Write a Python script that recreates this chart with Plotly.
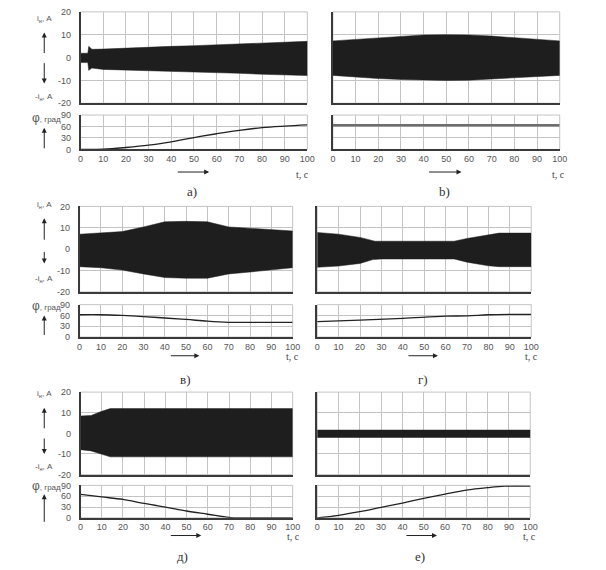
import plotly.graph_objects as go

W, H = 606, 570

# ---- data ----
# a)
t_a_env = [0, 3.2, 3.6, 4.2, 5, 10, 20, 30, 40, 50, 60, 70, 80, 90, 100]
a_up = [1.9, 1.9, 4.9, 4.5, 3.6, 3.7, 4.2, 4.6, 4.9, 5.2, 5.6, 6.0, 6.4, 6.9, 7.1]
a_lo = [-2.2, -2.2, -5.6, -5.2, -4.6, -5.2, -5.4, -5.7, -6.0, -6.3, -6.6, -6.9, -7.3, -7.7, -7.9]
t_a_phi = [0, 10, 20, 30, 40, 50, 60, 70, 80, 90, 100]
a_phi = [0, 0.5, 5, 11, 20, 31, 41, 50, 57, 61, 64]

# b)
t_b_env = [0, 10, 20, 30, 40, 50, 60, 70, 80, 90, 100]
b_up = [7.3, 8.0, 8.8, 9.4, 9.9, 10.0, 9.9, 9.4, 8.8, 8.0, 7.3]
b_lo = [-7.8, -8.6, -9.2, -9.6, -9.9, -10.0, -9.9, -9.4, -8.8, -8.3, -7.8]
t_b_phi = [0, 100]
b_phi = [63, 63]

# в)
t_v_env = [0, 10, 20, 30, 40, 50, 60, 70, 80, 90, 100]
v_up = [7.0, 7.5, 8.2, 10.4, 12.8, 13.0, 12.8, 10.4, 9.8, 9.2, 8.5]
v_lo = [-8.2, -8.7, -9.8, -11.6, -13.3, -13.6, -13.6, -11.6, -10.7, -9.8, -8.7]
t_v_phi = [0, 10, 20, 30, 40, 50, 60, 70, 80, 90, 100]
v_phi = [62, 62, 60, 57, 53, 49, 44, 41, 41, 41, 41]

# г)
t_g_env = [0, 10, 20, 26, 27, 30, 64, 70, 80, 85, 100]
g_up = [7.8, 7.0, 5.5, 4.0, 3.7, 3.7, 3.7, 5.0, 6.9, 7.5, 7.5]
g_lo = [-8.5, -7.9, -6.7, -4.9, -4.6, -4.6, -4.6, -6.1, -7.8, -8.2, -8.2]
t_g_phi = [0, 20, 40, 60, 70, 80, 90, 100]
g_phi = [43, 47, 52, 58, 59, 62, 63, 63]

# д)
t_d_env = [0, 5, 10, 14, 100]
d_up = [8.4, 8.7, 10.7, 12.0, 12.0]
d_lo = [-7.9, -8.5, -10.1, -11.4, -11.4]
t_d_phi = [0, 10, 20, 30, 40, 50, 60, 70, 73, 100]
d_phi = [65, 58, 51, 40, 30, 19, 10, 1, 0, 0]

# е)
t_e_env = [0, 100]
e_up = [1.6, 1.6]
e_lo = [-2.0, -2.0]
t_e_phi = [0, 10, 20, 30, 40, 50, 60, 70, 80, 88, 100]
e_phi = [0, 7, 17, 29, 41, 54, 66, 77, 84, 88, 88]

x_ticks = list(range(0, 101, 10))
i_ticks = [20, 10, 0, -10, -20]
i_text = ["20", "10", "0", "-10", "-20"]
phi_ticks = [0, 30, 60, 90]

FONT = "Liberation Sans"
GRID = "#c4c4c4"
AXIS = "#3a3a3a"
TXT = "#555555"

fig = go.Figure()
annotations = []
layout = {}


def py(y):
    return 1 - y / H


def add_panel(k, xs, yc, yp, t_env, up, lo, t_phi, phi, left, phi_color="#222222", phi_w=1.3):
    ci, pi = 2 * k + 1, 2 * k + 2
    xd = [xs[0] / W, xs[1] / W]
    for i, yy in ((ci, yc), (pi, yp)):
        sfx = "" if i == 1 else str(i)
        layout["xaxis" + sfx] = dict(
            domain=xd, anchor="y" + sfx, range=[0, 100], tickvals=x_ticks,
            showticklabels=(i == pi), showgrid=True, gridcolor=GRID, gridwidth=1,
            showline=True, linecolor=AXIS, linewidth=1.5, zeroline=False,
            ticks="", tickfont=dict(size=9, color=TXT, family=FONT), fixedrange=True)
        if i == ci:
            yax = dict(range=[-20, 20], tickvals=i_ticks, ticktext=i_text)
        else:
            yax = dict(range=[0, 90], tickvals=phi_ticks)
        yax.update(domain=[py(yy[1]), py(yy[0])], anchor="x" + sfx,
                   showticklabels=left, showgrid=True, gridcolor=GRID, gridwidth=1,
                   showline=True, linecolor=AXIS, linewidth=1.5, zeroline=False,
                   ticks="", ticklabelstandoff=6,
                   tickfont=dict(size=9, color=TXT, family=FONT), fixedrange=True)
        layout["yaxis" + sfx] = yax
        # light top/right border
        fig.add_shape(type="rect", xref="x%s domain" % sfx, yref="y%s domain" % sfx,
                      x0=0, x1=1, y0=0, y1=1, line=dict(color=GRID, width=1), layer="below")
    csfx = "" if ci == 1 else str(ci)
    fig.add_trace(go.Scatter(
        x=t_env + t_env[::-1], y=up + lo[::-1], fill="toself", mode="lines",
        fillcolor="#1e1e1e", line=dict(color="#1e1e1e", width=0.5),
        xaxis="x" + csfx, yaxis="y" + csfx, hoverinfo="skip", showlegend=False))
    fig.add_trace(go.Scatter(
        x=t_phi, y=phi, mode="lines", line=dict(color=phi_color, width=phi_w, shape="spline"),
        xaxis="x%d" % pi, yaxis="y%d" % pi, hoverinfo="skip", showlegend=False))


def arrow(x0, y0, x1, y1):
    annotations.append(dict(
        xref="paper", yref="paper", x=x1 / W, y=py(y1), ax=x0 - x1, ay=y0 - y1,
        axref="pixel", ayref="pixel", text="", showarrow=True, arrowhead=2,
        arrowsize=1, arrowwidth=1, arrowcolor="#222222", standoff=0, startstandoff=0))


def text(x, y, s, size=9, family=FONT, xanchor="center", color=TXT):
    annotations.append(dict(
        xref="paper", yref="paper", x=x / W, y=py(y), text=s, showarrow=False,
        xanchor=xanchor, yanchor="middle", font=dict(size=size, family=family, color=color)))


def left_labels(y_top, y_up_end, y_up_start, y_dn_start, y_dn_end, y_bot, y_phi, y_pa0, y_pa1):
    text(42, y_top, "i<sub>н</sub>, A", size=8)
    arrow(42, y_up_start, 42, y_up_end)
    arrow(42, y_dn_start, 42, y_dn_end)
    text(42, y_bot, "-i<sub>н</sub>, A", size=8)
    text(44, y_phi, "<span style='font-size:12px'>φ</span>, град", size=8)
    arrow(42, y_pa0, 42, y_pa1)


def bottom_labels(ax0, ax1, ya, tx, ty, lx, ly, lab):
    arrow(ax0, ya, ax1, ya)
    text(tx, ty, "t, c", size=10, family="Liberation Serif", color="#444444")
    text(lx, ly, lab, size=13, family="Liberation Serif", color="#333333")


add_panel(0, (79, 310), (7, 100), (112, 147), t_a_env, a_up, a_lo, t_a_phi, a_phi, True)
add_panel(1, (336, 567), (7, 100), (112, 147), t_b_env, b_up, b_lo, t_b_phi, b_phi, False,
          phi_color="#6e6e6e", phi_w=2.5)
add_panel(2, (78, 295), (205, 292), (305, 338), t_v_env, v_up, v_lo, t_v_phi, v_phi, True)
add_panel(3, (320, 538), (205, 292), (305, 338), t_g_env, g_up, g_lo, t_g_phi, g_phi, False)
add_panel(4, (79, 295), (394, 478), (489, 522), t_d_env, d_up, d_lo, t_d_phi, d_phi, True)
add_panel(5, (320, 537), (394, 478), (489, 522), t_e_env, e_up, e_lo, t_e_phi, e_phi, False)

left_labels(14, 28, 50, 58, 80, 94, 115, 147, 125)
left_labels(204, 217, 240, 250, 263, 279, 306, 337, 316)
left_labels(396, 410, 432, 440, 457, 470, 490, 527, 498)

bottom_labels(177, 210, 170, 305, 173, 193, 190, "а)")
bottom_labels(433, 467, 170, 566, 173, 450, 190, "b)")
bottom_labels(170, 200, 357, 295, 358, 185, 381, "в)")
bottom_labels(412, 443, 357, 538, 358, 428, 381, "г)")
bottom_labels(170, 202, 540, 296, 541, 183, 561, "д)")
bottom_labels(410, 442, 540, 536, 541, 425, 561, "е)")

fig.update_layout(
    width=W, height=H, margin=dict(l=0, r=0, t=0, b=0),
    paper_bgcolor="white", plot_bgcolor="white",
    font=dict(family=FONT, color=TXT), annotations=annotations, **layout)

fig.write_html("out.html", config={"displayModeBar": False},
               post_script="document.body.style.margin='0';")
